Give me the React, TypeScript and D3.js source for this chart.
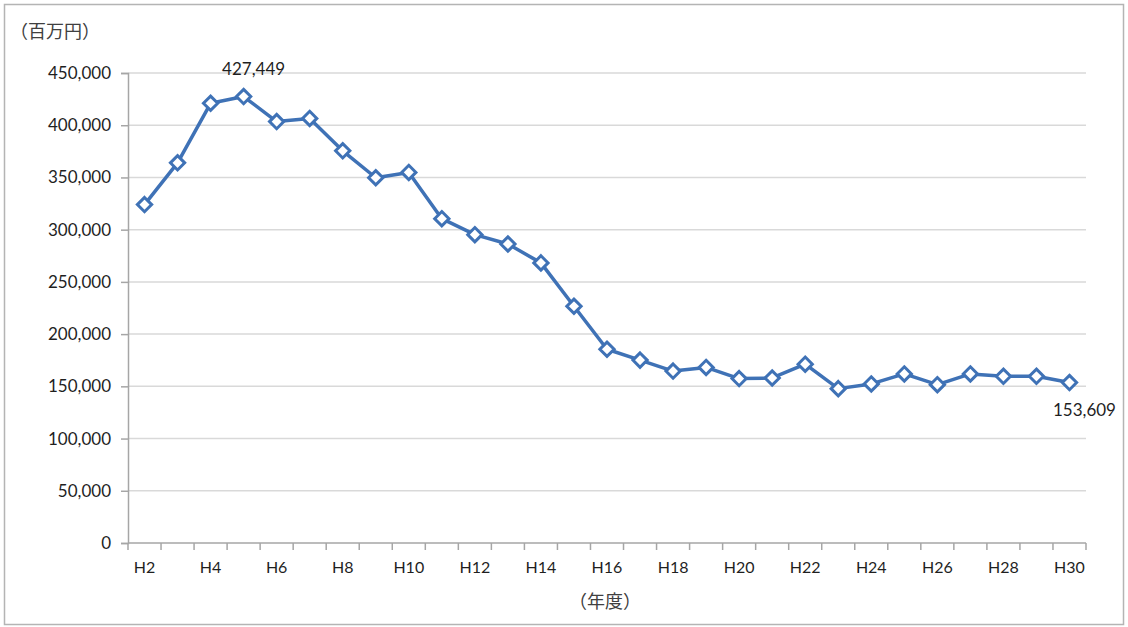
import React, { useEffect, useRef } from 'react';
import * as d3 from 'd3';

// Fiscal years H2..H30
const years: string[] = [
  'H2', 'H3', 'H4', 'H5', 'H6', 'H7', 'H8', 'H9', 'H10', 'H11',
  'H12', 'H13', 'H14', 'H15', 'H16', 'H17', 'H18', 'H19', 'H20', 'H21',
  'H22', 'H23', 'H24', 'H25', 'H26', 'H27', 'H28', 'H29', 'H30'
];

// 百万円
const amounts: number[] = [
  324000, 364000, 421000, 427449, 403500, 406500, 375500, 349700, 354800, 310500,
  295200, 286300, 268200, 226700, 185500, 175100, 164600, 168100, 157400, 158000,
  171200, 147800, 152300, 161900, 151600, 161900, 159600, 159600, 153609
];

const yTicks: number[] = [0, 50000, 100000, 150000, 200000, 250000, 300000, 350000, 400000, 450000];

// which points carry a data label
const labelled: string[] = ['H5', 'H30'];

const W = 1128;
const H = 627;
const FONT = 'Lato, "Noto Sans CJK JP", sans-serif';
const JP_FONT = '"Noto Sans CJK JP", sans-serif';
const BLUE = '#3f72b6';

export default function App() {
  const svgRef = useRef<SVGSVGElement>(null);

  useEffect(() => {
    document.body.style.margin = '0';
    if (!svgRef.current) return;

    const margin = { top: 73, right: 42, bottom: 84, left: 128 };
    const width = W - margin.left - margin.right;
    const height = H - margin.top - margin.bottom;

    d3.select(svgRef.current).selectAll('*').remove();

    const root = d3.select(svgRef.current)
      .attr('width', W)
      .attr('height', H);

    // outer frame
    root.append('rect')
      .attr('x', 0).attr('y', 0)
      .attr('width', W).attr('height', H)
      .attr('fill', '#ffffff');
    root.append('rect')
      .attr('x', 4.5).attr('y', 4.5)
      .attr('width', 1119).attr('height', 620)
      .attr('fill', 'none')
      .attr('stroke', '#b4b4b4')
      .attr('stroke-width', 1.5);

    const svg = root.append('g')
      .attr('transform', `translate(${margin.left},${margin.top})`);

    const x = d3.scaleBand<string>()
      .domain(years)
      .range([0, width]);

    const y = d3.scaleLinear()
      .domain([0, 450000])
      .range([height, 0]);

    // Grid lines
    svg.append('g')
      .selectAll('line')
      .data(yTicks.filter(d => d > 0))
      .enter()
      .append('line')
      .attr('x1', 0)
      .attr('x2', width)
      .attr('y1', d => y(d))
      .attr('y2', d => y(d))
      .attr('stroke', '#d9d9d9')
      .attr('stroke-width', 1.5);

    // Y axis
    const yAxis = svg.append('g')
      .call(d3.axisLeft(y).tickValues(yTicks).tickSize(7).tickPadding(10).tickFormat(d => d3.format(',')(d as number)));
    yAxis.select('.domain').attr('stroke', '#a6a6a6').attr('stroke-width', 1.5);
    yAxis.selectAll('.tick line').attr('stroke', '#a6a6a6').attr('stroke-width', 1.5);
    yAxis.selectAll('text')
      .attr('fill', '#1f1f1f')
      .style('font-family', FONT)
      .style('font-size', '17px');

    // X axis: ticks on category boundaries, labels on every other year
    const xAxis = svg.append('g').attr('transform', `translate(0,${height})`);
    xAxis.append('line')
      .attr('x1', 0).attr('x2', width)
      .attr('stroke', '#a6a6a6').attr('stroke-width', 1.5);
    xAxis.selectAll('.xt')
      .data([...years.map(d => x(d) as number), width])
      .enter()
      .append('line')
      .attr('class', 'xt')
      .attr('x1', d => d).attr('x2', d => d)
      .attr('y1', 0).attr('y2', 7)
      .attr('stroke', '#a6a6a6').attr('stroke-width', 1.5);
    xAxis.selectAll('.xl')
      .data(years.filter((_, i) => i % 2 === 0))
      .enter()
      .append('text')
      .attr('class', 'xl')
      .attr('x', d => (x(d) as number) + x.bandwidth() / 2)
      .attr('y', 30)
      .attr('text-anchor', 'middle')
      .attr('fill', '#1f1f1f')
      .style('font-family', FONT)
      .style('font-size', '16px')
      .text(d => d);

    // Line
    const line = d3.line<number>()
      .x((_, i) => (x(years[i]) as number) + x.bandwidth() / 2)
      .y(d => y(d));

    svg.append('path')
      .datum(amounts)
      .attr('fill', 'none')
      .attr('stroke', BLUE)
      .attr('stroke-width', 3.5)
      .attr('stroke-linejoin', 'round')
      .attr('d', line);

    // Diamond markers
    const diamond = d3.symbol().type(d3.symbolDiamond2).size(130);
    svg.selectAll('.marker')
      .data(amounts)
      .enter()
      .append('path')
      .attr('class', 'marker')
      .attr('d', diamond)
      .attr('transform', (d, i) => `translate(${(x(years[i]) as number) + x.bandwidth() / 2},${y(d)})`)
      .attr('fill', '#ffffff')
      .attr('stroke', BLUE)
      .attr('stroke-width', 3);

    // Data labels
    const labelOffset: Record<string, [number, number]> = { H5: [10, -22], H30: [15, 33] };
    svg.selectAll('.label')
      .data(labelled)
      .enter()
      .append('text')
      .attr('class', 'label')
      .attr('x', d => (x(d) as number) + x.bandwidth() / 2 + labelOffset[d][0])
      .attr('y', d => y(amounts[years.indexOf(d)]) + labelOffset[d][1])
      .attr('text-anchor', 'middle')
      .attr('fill', '#1f1f1f')
      .style('font-family', FONT)
      .style('font-size', '17px')
      .text(d => d3.format(',')(amounts[years.indexOf(d)]));

    // Unit and axis titles
    root.append('text')
      .attr('x', 10)
      .attr('y', 38)
      .attr('fill', '#404040')
      .style('font-family', JP_FONT)
      .style('font-size', '18px')
      .text('（百万円）');

    root.append('text')
      .attr('x', 605)
      .attr('y', 608)
      .attr('text-anchor', 'middle')
      .attr('fill', '#404040')
      .style('font-family', JP_FONT)
      .style('font-size', '18px')
      .text('（年度）');
  }, []);

  return <svg ref={svgRef} style={{ display: 'block' }}></svg>;
}
